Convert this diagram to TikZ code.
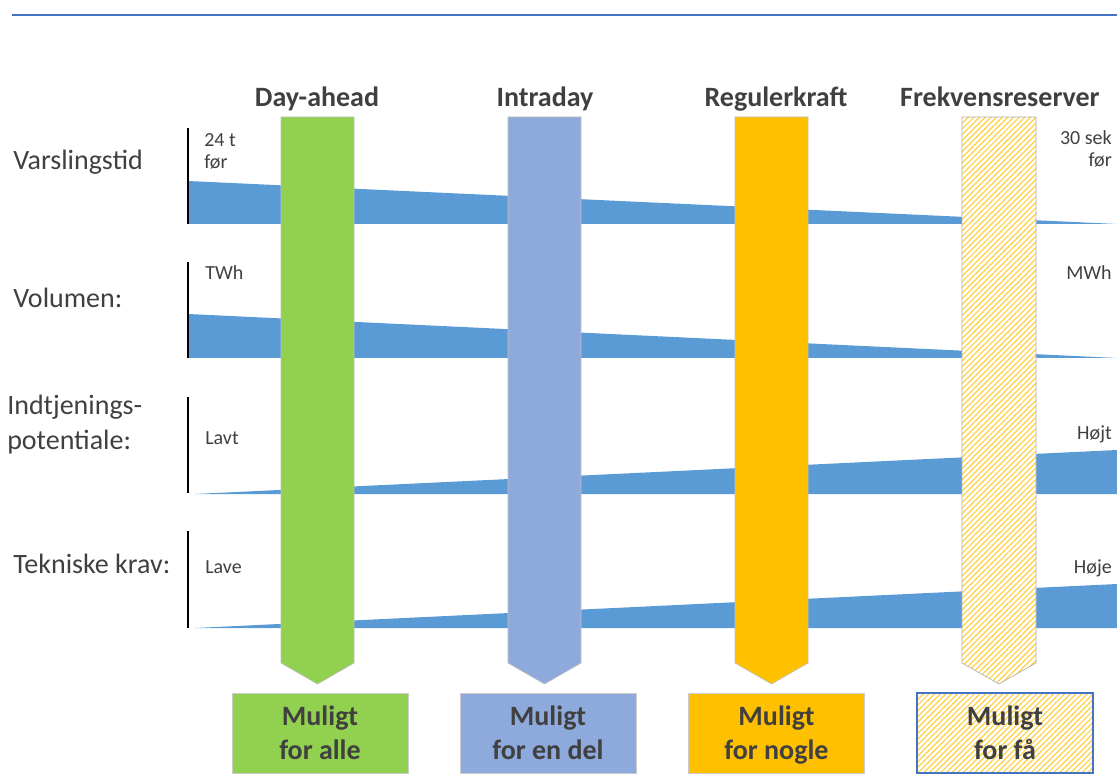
\documentclass[tikz,border=0pt]{standalone}
\usepackage{fontspec}
\setmainfont{Carlito}
\usetikzlibrary{patterns.meta}
\definecolor{txtgray}{HTML}{404040}
\definecolor{wedgeblue}{HTML}{5B9BD5}
\definecolor{lineblue}{HTML}{4472C4}
\definecolor{dagreen}{HTML}{92D050}
\definecolor{idblue}{HTML}{8EA9DB}
\definecolor{rkorange}{HTML}{FFC000}
\begin{document}
\begin{tikzpicture}[x=0.75pt,y=-0.75pt,
  every node/.style={inner sep=0pt,text=txtgray},
  head/.style={anchor=base,font=\fontsize{21pt}{25pt}\selectfont\bfseries},
  rowlabel/.style={anchor=base west,font=\fontsize{21pt}{26pt}\selectfont},
  small/.style={font=\fontsize{15pt}{17pt}\selectfont},
  column/.style={draw=black!25,line width=0.5pt},
  hatched/.style={preaction={fill=white},pattern={Lines[angle=45,distance=3pt,line width=0.9pt]},pattern color=rkorange!75},
  resultbox/.style={minimum width=132pt,minimum height=60pt,align=center,draw=black!20,line width=0.5pt,
    text depth=0pt,font=\fontsize{21pt}{25.5pt}\selectfont\bfseries}]
\useasboundingbox (0,0) rectangle (1117,780);

\draw[lineblue,line width=1.6pt] (12,15) -- (1117,15);

% kiler
\fill[wedgeblue] (188,181) -- (1117,224) -- (188,224) -- cycle;
\fill[wedgeblue] (188,314) -- (1117,358) -- (188,358) -- cycle;
\fill[wedgeblue] (195,494) -- (1117,450) -- (1117,494) -- cycle;
\fill[wedgeblue] (195,628) -- (1117,584) -- (1117,628) -- cycle;

\draw[line width=1.5pt] (188,128) -- (188,224);
\draw[line width=1.5pt] (188,262) -- (188,358);
\draw[line width=1.5pt] (188,397) -- (188,493);
\draw[line width=1.5pt] (188,531) -- (188,628);

% markeder
\fill[dagreen,column] (281,117) -- (354,117) -- (354,663) -- (317.5,684) -- (281,663) -- cycle;
\fill[idblue,column] (508,117) -- (581,117) -- (581,663) -- (544.5,684) -- (508,663) -- cycle;
\fill[rkorange,column] (735,117) -- (808,117) -- (808,663) -- (771.5,684) -- (735,663) -- cycle;
\fill[hatched] (962,117) -- (1036,117) -- (1036,663) -- (999,684) -- (962,663) -- cycle;
\draw[column,black!30] (962,117) -- (1036,117) -- (1036,663) -- (999,684) -- (962,663) -- cycle;

\node[head] (hDA) at (317,107) {Day-ahead};
\node[head] (hID) at (545,107) {Intraday};
\node[head] (hRK) at (776,107) {Regulerkraft};
\node[head] (hFR) at (1000,107) {Frekvensreserver};

\node[rowlabel] (lVars) at (13,170) {Varslingstid};
\node[rowlabel] (lVol) at (13,308) {Volumen:};
\node[rowlabel] (lIndt) at (7,415) {Indtjenings-};
\node[rowlabel] (lPot) at (7,450) {potentiale:};
\node[rowlabel] (lTek) at (13,573) {Tekniske krav:};

\node[small,anchor=base west] (s24) at (204,147) {24 t};
\node[small,anchor=base west] (sFor) at (204,169) {før};
\node[small,anchor=base west] (sTWh) at (205,280) {TWh};
\node[small,anchor=base west] (sLavt) at (205,444) {Lavt};
\node[small,anchor=base west] (sLave) at (205,573) {Lave};

\node[small,anchor=base east] (s30) at (1112,145) {30 sek};
\node[small,anchor=base east] (sFor2) at (1112,167) {før};
\node[small,anchor=base east] (sMWh) at (1112,280) {MWh};
\node[small,anchor=base east] (sHojt) at (1112,440) {Højt};
\node[small,anchor=base east] (sHoje) at (1112,573) {Høje};

% resultater
\node[resultbox,fill=dagreen] (bDA) at (320,733) {Muligt\\for alle};
\node[resultbox,fill=idblue] (bID) at (548,733) {Muligt\\for en del};
\node[resultbox,fill=rkorange] (bRK) at (776.5,733) {Muligt\\for nogle};
\node[resultbox,hatched,draw=lineblue,line width=1.5pt] (bFR) at (1005,733) {Muligt\\for få};
\end{tikzpicture}
\end{document}
